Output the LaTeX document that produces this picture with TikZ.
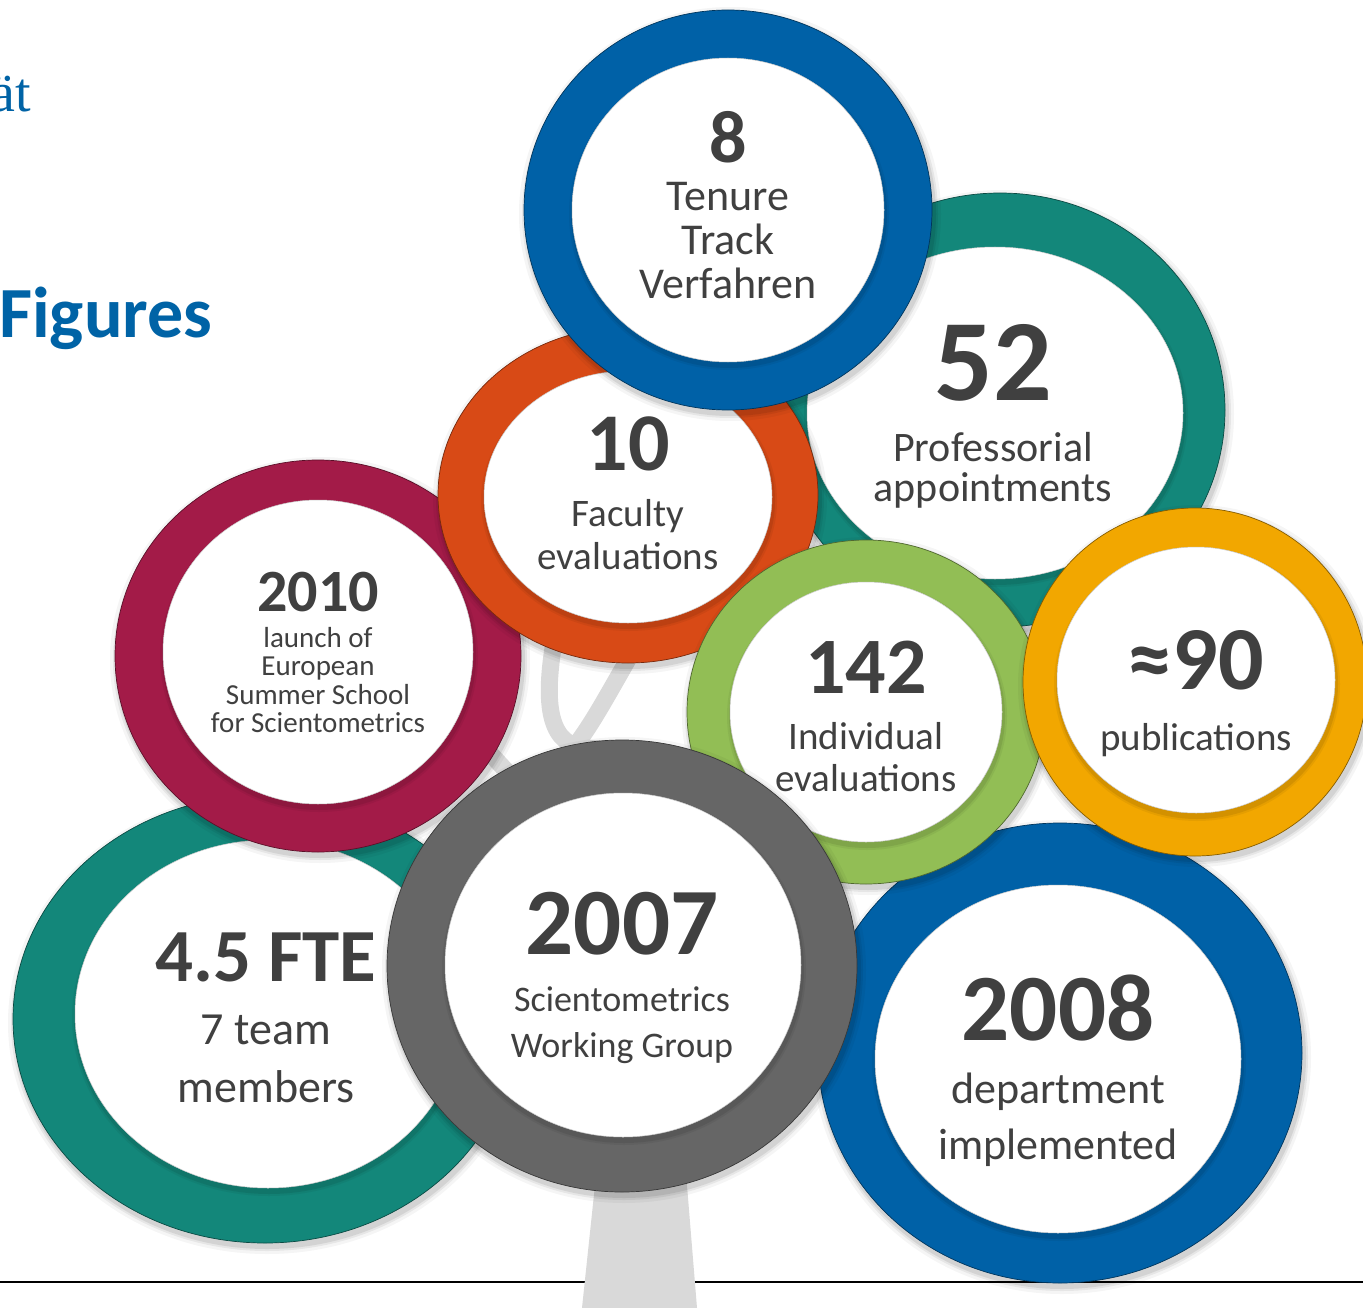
\documentclass[tikz,border=0pt]{standalone}
\usepackage{fontspec}
\setmainfont{Carlito}
\newfontfamily\serifhead{Liberation Serif}
\definecolor{cblue}{HTML}{0061A7}
\definecolor{cteal}{HTML}{13877A}
\definecolor{corange}{HTML}{D84A16}
\definecolor{cmagenta}{HTML}{A31B48}
\definecolor{cgreen}{HTML}{92BE55}
\definecolor{cyellow}{HTML}{F2A700}
\definecolor{cgray}{HTML}{666666}
\definecolor{ctext}{HTML}{404040}
\definecolor{ctree}{HTML}{D9D9D9}
\definecolor{chead}{HTML}{0063A6}
% ring: colour, outer cx, cy, rx, ry, inner cx, cy, rx, ry
\newcommand\ringshape[9]{%
  \foreach \s/\o in {7/0.04,4/0.06,2/0.08}{%
    \fill[black,opacity=\o] ({#2+2},{#3+4}) ellipse [x radius={#4+\s}, y radius={#5+\s}];}
  \fill[#1, draw=black!45!#1, line width=0.7] (#2,#3) ellipse [x radius=#4, y radius=#5];
  \foreach \s/\o in {4/0.05,2/0.08}{%
    \fill[black,opacity=\o] ({#6+1},{#7+4}) ellipse [x radius={#8+\s}, y radius={#9+\s}];}
  \fill[white, draw=black!20, line width=0.5] (#6,#7) ellipse [x radius=#8, y radius=#9];
}
\tikzset{
  bignum/.style={font=\bfseries\fontsize{#1}{#1}\selectfont, text=ctext, inner sep=0pt},
  label/.style 2 args={font=\fontsize{#1}{#2}\selectfont, text=ctext, inner sep=0pt, align=center},
  branch/.style={draw=ctree, line width=17, line cap=round},
}
\begin{document}
\begin{tikzpicture}[x=1pt,y=-1pt]
\useasboundingbox (0,0) rectangle (1363,1308);
\clip (0,0) rectangle (1363,1308);
\fill[white] (0,0) rectangle (1363,1308);

% headings
\node[anchor=base east, inner sep=0pt, text=chead, font=\serifhead\fontsize{56}{56}\selectfont] (uni) at (31,112) {ät};
\node[anchor=base west, inner sep=0pt, text=chead, font=\bfseries\fontsize{72}{72}\selectfont] (fig) at (-1,337) {Figures};

% ground line and tree
\coordinate (gl) at (0,1282);
\coordinate (gr) at (1363,1282);
\draw[line width=2.2, black] (gl) -- (gr);
\fill[ctree] (604,1100) -- (680,1100) -- (697,1308) -- (582,1308) -- cycle;
\draw[branch] (600,880) .. controls (560,820) and (520,790) .. (470,730);
\draw[branch] (575,746) .. controls (545,735) and (545,690) .. (556,630);
\draw[branch] (575,746) .. controls (595,720) and (610,690) .. (645,630);
\fill[ctree] (560,740) -- (600,740) -- (640,1000) -- (600,1000) -- cycle;

% rings, back to front
\ringshape{cteal}{265}{1019}{252}{224}{268}{1014}{193}{174}
\ringshape{cmagenta}{318}{656}{203}{196}{318}{652}{155}{152}
\ringshape{cteal}{1000}{410}{225}{217}{995}{413}{188}{166}
\ringshape{corange}{628}{495}{190}{168}{628}{497}{144}{126}
\ringshape{cblue}{728}{210}{204}{200}{728}{210}{156}{152}
\ringshape{cblue}{1060}{1053}{242}{230}{1058}{1059}{183}{174}
\ringshape{cgreen}{866}{712}{179}{172}{866}{712}{136}{130}
\ringshape{cyellow}{1195}{682}{172}{174}{1196}{680}{139}{133}
\ringshape{cgray}{622}{966}{235}{226}{623}{965}{178}{172}

% texts
\node[bignum=74] (n8) at (728,137) {8};
\node[label={44}{44}] (t8) at (728,241) {Tenure\\Track\\Verfahren};
\node[bignum=116] (n52) at (993,363) {52};
\node[label={42}{40}] (t52) at (993,470) {Professorial\\appointments};
\node[bignum=82] (n10) at (628,444) {10};
\node[label={39}{43}] (t10) at (628,535) {Faculty\\evaluations};
\node[bignum=60] (n2010) at (318,592) {2010};
\node[label={29}{28.5}] (t2010) at (318,680) {launch of\\European\\Summer School\\for Scientometrics};
\node[bignum=80] (n142) at (866,667) {142};
\node[label={39}{42}] (t142) at (866,757) {Individual\\evaluations};
\node[bignum=90] (n90) at (1196,660) {≈90};
\node[label={39}{42}] (t90) at (1196,740) {publications};
\node[bignum=75] (nfte) at (266,957) {4.5 FTE};
\node[label={46}{58}] (tfte) at (266,1059) {7 team\\members};
\node[bignum=95] (n2007) at (622,924) {2007};
\node[label={36}{46}] (t2007) at (622,1025) {Scientometrics\\Working Group};
\node[bignum=95] (n2008) at (1058,1008) {2008};
\node[label={44}{56}] (t2008) at (1058,1120) {department\\implemented};
\end{tikzpicture}
\end{document}
